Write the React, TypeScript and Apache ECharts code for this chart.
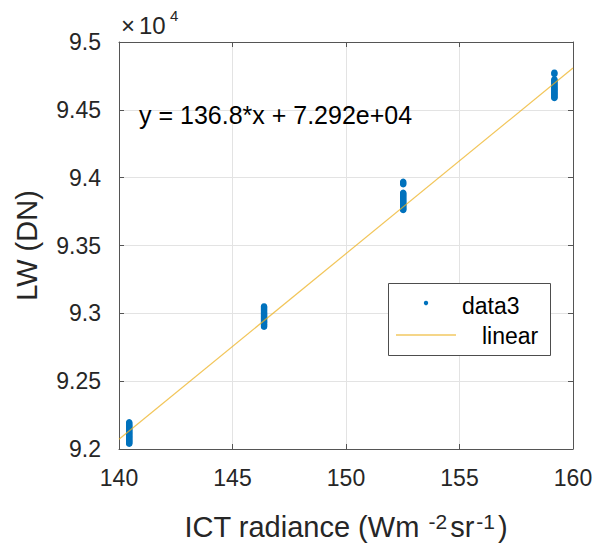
import React, { useEffect, useRef } from 'react';
import * as echarts from 'echarts';

// Cluster x positions (ICT radiance) and LW counts (DN)
const clusterX = [140.45, 146.39, 152.52, 159.18];
const cluster1 = [92039, 92044, 92051, 92057, 92062, 92070, 92075, 92083, 92088, 92094, 92101, 92106, 92114, 92119, 92126, 92133, 92138, 92146, 92153, 92159, 92167, 92174, 92181, 92189, 92197];
const cluster2 = [92901, 92908, 92915, 92921, 92930, 92936, 92942, 92949, 92955, 92961, 92968, 92974, 92981, 92987, 92994, 93000, 93007, 93015, 93022, 93030, 93038, 93045, 93051];
const cluster3 = [93762, 93768, 93775, 93781, 93789, 93795, 93802, 93808, 93816, 93823, 93830, 93837, 93845, 93852, 93860, 93867, 93875, 93882, 93888, 93952, 93961, 93970];
const cluster4 = [94587, 94593, 94600, 94607, 94614, 94620, 94628, 94635, 94642, 94649, 94656, 94663, 94671, 94678, 94686, 94694, 94703, 94711, 94718, 94725, 94765, 94774];
const clusters = [cluster1, cluster2, cluster3, cluster4];

// Fitted line end points
const fitLine = [
  [140, 92072],
  [160, 94808],
];
const equationText = 'y = 136.8*x + 7.292e+04';
const xAxisName = 'ICT radiance (Wm{sp|}{sup|-2}sr{sup|-1})';
const yAxisName = 'LW (DN)';
const scaleTimes = '×';
const scaleBase = '10';
const scaleExp = '4';
const legendNames = ['data3', 'linear'];

const FONT = '"Liberation Sans", Arial, sans-serif';
const TXT = '#262626';
const AX = '#555555';

export default function App() {
  const ref = useRef<HTMLDivElement>(null);
  useEffect(() => {
    const chart = echarts.init(ref.current!, null, { renderer: 'svg' });
    const scatterData: number[][] = [];
    clusters.forEach((ys, i) => ys.forEach((y) => scatterData.push([clusterX[i], y])));

    const mainAxisCommon = {
      type: 'value' as const,
      axisLine: { show: true, onZero: false, lineStyle: { color: AX, width: 1 } },
      axisTick: { show: true, inside: true, length: 5, lineStyle: { color: AX, width: 1 } },
    };

    chart.setOption({
      animation: false,
      backgroundColor: '#ffffff',
      grid: { left: 119, right: 23, top: 42, bottom: 94, containLabel: false },
      xAxis: [
        {
          ...mainAxisCommon,
          position: 'bottom',
          min: 140,
          max: 160,
          interval: 5,
          axisLabel: { color: TXT, fontSize: 23, fontFamily: FONT, margin: 17 },
          splitLine: { show: true, lineStyle: { color: '#e3e3e3', width: 1 } },
          name: xAxisName,
          nameLocation: 'middle',
          nameGap: 62,
          nameTextStyle: {
            color: TXT,
            fontSize: 29,
            fontFamily: FONT,
            lineHeight: 32,
            rich: {
              sp: { width: 7 },
              sup: { fontSize: 21, fontFamily: FONT, color: TXT, lineHeight: 14, verticalAlign: 'top', padding: [0, 3, 0, 2] },
            },
          },
        },
        {
          ...mainAxisCommon,
          position: 'top',
          min: 140,
          max: 160,
          interval: 5,
          axisLabel: { show: false },
          splitLine: { show: false },
        },
      ],
      yAxis: [
        {
          ...mainAxisCommon,
          position: 'left',
          min: 92000,
          max: 95000,
          interval: 500,
          axisLabel: {
            color: TXT,
            fontSize: 23,
            fontFamily: FONT,
            margin: 18,
            formatter: (v: number) => String(v / 10000),
          },
          splitLine: { show: true, lineStyle: { color: '#e3e3e3', width: 1 } },
          name: yAxisName,
          nameLocation: 'middle',
          nameGap: 78,
          nameRotate: 90,
          nameTextStyle: { color: TXT, fontSize: 29, fontFamily: FONT },
        },
        {
          ...mainAxisCommon,
          position: 'right',
          min: 92000,
          max: 95000,
          interval: 500,
          axisLabel: { show: false },
          splitLine: { show: false },
        },
      ],
      series: [
        {
          name: legendNames[0],
          type: 'scatter',
          data: scatterData,
          symbol: 'circle',
          symbolSize: 6.5,
          itemStyle: { color: '#0072BD', opacity: 1 },
          z: 3,
        },
        {
          name: legendNames[1],
          type: 'line',
          data: fitLine,
          showSymbol: false,
          symbol: 'none',
          lineStyle: { color: '#EDB120', width: 1.2, opacity: 0.75 },
          z: 4,
        },
      ],
      graphic: [
        {
          type: 'text',
          left: 121,
          top: 13,
          style: { text: scaleTimes, fill: TXT, font: `24px ${FONT}` },
        },
        {
          type: 'text',
          left: 139,
          top: 13,
          style: { text: scaleBase, fill: TXT, font: `24px ${FONT}` },
        },
        {
          type: 'text',
          left: 170,
          top: 8,
          style: { text: scaleExp, fill: TXT, font: `15px ${FONT}` },
        },
        {
          type: 'text',
          left: 139,
          top: 102,
          style: { text: equationText, fill: '#000000', font: `25px ${FONT}` },
          z: 10,
        },
        {
          type: 'rect',
          shape: { x: 388.5, y: 283.5, width: 162, height: 72 },
          style: { fill: '#ffffff', stroke: '#4d4d4d', lineWidth: 1 },
          z: 20,
        },
        {
          type: 'circle',
          shape: { cx: 426, cy: 303, r: 2.2 },
          style: { fill: '#0072BD' },
          z: 21,
        },
        {
          type: 'line',
          shape: { x1: 396, y1: 335, x2: 456, y2: 335 },
          style: { stroke: '#EDB120', lineWidth: 1.5, opacity: 0.7 },
          z: 21,
        },
        {
          type: 'text',
          x: 462,
          y: 306,
          style: { text: legendNames[0], fill: '#000000', font: `23px ${FONT}`, align: 'left', verticalAlign: 'middle' },
          z: 21,
        },
        {
          type: 'text',
          x: 482,
          y: 336,
          style: { text: legendNames[1], fill: '#000000', font: `23px ${FONT}`, align: 'left', verticalAlign: 'middle' },
          z: 21,
        },
      ],
    });
    return () => chart.dispose();
  }, []);
  return <div ref={ref} style={{ position: 'fixed', left: 0, top: 0, width: 596, height: 548 }} />;
}
